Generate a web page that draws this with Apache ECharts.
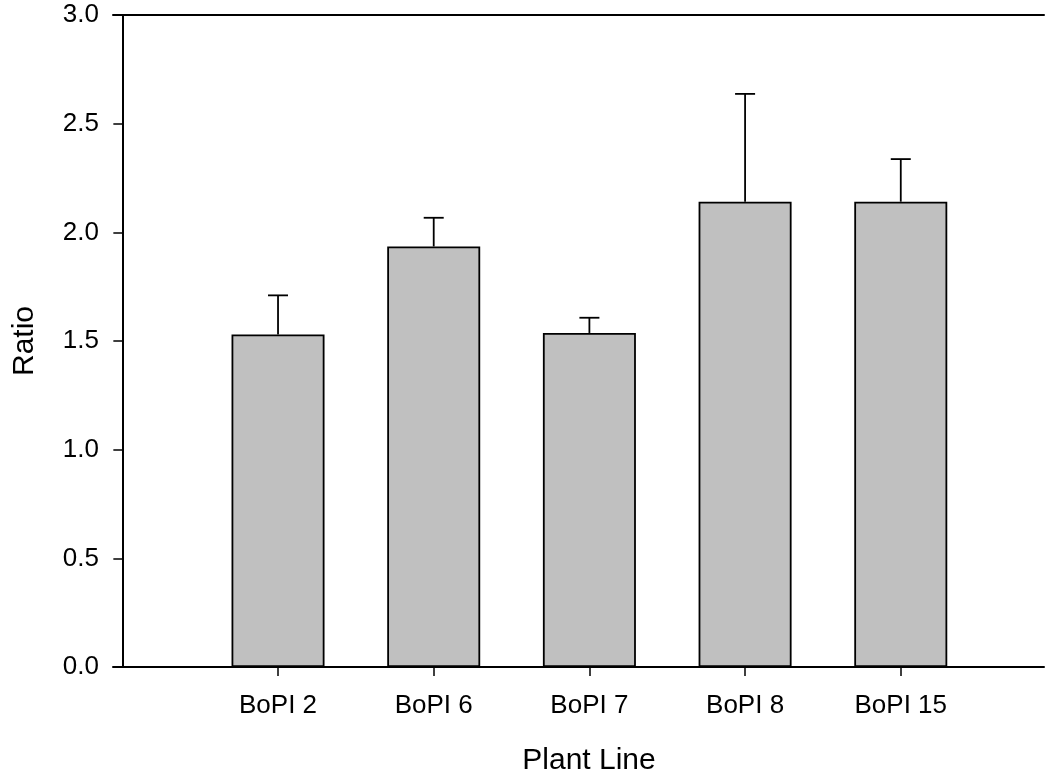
<!DOCTYPE html>
<html>
<head>
<meta charset="utf-8">
<script src="https://cdn.jsdelivr.net/npm/echarts@6/dist/echarts.min.js"></script>
<style>html,body{margin:0;padding:0;background:#fff}#chart{width:1045px;height:776px}</style>
</head>
<body>
<div id="chart"></div>
<script>
var categories = ['BoPI 2', 'BoPI 6', 'BoPI 7', 'BoPI 8', 'BoPI 15'];
var ratioMeans = [1.53, 1.935, 1.537, 2.141, 2.141];
var ratioErrors = [0.18, 0.132, 0.07, 0.496, 0.196];
var yTicks = [0, 0.5, 1.0, 1.5, 2.0, 2.5, 3.0];

var positions = categories.map(function (c, i) { return i + 1; });
var barData = positions.map(function (p, i) { return [p, ratioMeans[i]]; });
var errData = positions.map(function (p, i) { return [p, ratioMeans[i], ratioMeans[i] + ratioErrors[i]]; });

var font = '"Liberation Sans", Arial, Helvetica, sans-serif';
var chart = echarts.init(document.getElementById('chart'), null, { renderer: 'canvas' });
chart.setOption({
  animation: false,
  backgroundColor: '#fff',
  grid: { left: 113, right: 1, top: 15, bottom: 109, containLabel: false, outerBoundsMode: 'none' },
  xAxis: [{
    type: 'value', min: -0.06, max: 5.92, position: 'bottom',
    name: 'Plant Line', nameLocation: 'middle', nameGap: 79,
    nameTextStyle: { fontFamily: font, fontSize: 30, color: '#000', padding: [0, 0, 0, 21] },
    axisLine: { show: true, onZero: false, lineStyle: { color: '#000', width: 2 } },
    axisTick: { show: true, customValues: positions, length: 9, lineStyle: { color: '#000', width: 1.5 } },
    axisLabel: { show: true, customValues: positions, margin: 26, fontFamily: font, fontSize: 26, color: '#000',
      formatter: function (v) { return categories[Math.round(v) - 1] || ''; } },
    splitLine: { show: false }
  }, {
    type: 'value', min: -0.06, max: 5.92, position: 'top',
    axisLine: { show: true, onZero: false, lineStyle: { color: '#000', width: 2 } },
    axisTick: { show: false }, axisLabel: { show: false }, splitLine: { show: false }
  }],
  yAxis: {
    type: 'value', min: 0, max: 3, interval: 0.5,
    name: 'Ratio', nameLocation: 'middle', nameGap: 73, nameRotate: 90,
    nameTextStyle: { fontFamily: font, fontSize: 30, color: '#000' },
    axisLine: { show: true, onZero: true, lineStyle: { color: '#000', width: 2 } },
    axisTick: { show: true, length: 9, lineStyle: { color: '#000', width: 1.5 } },
    axisLabel: { margin: 14, fontFamily: font, fontSize: 26, color: '#000',
      formatter: function (v) { return v.toFixed(1); } },
    splitLine: { show: false }
  },
  series: [{
    type: 'bar', xAxisIndex: 0, data: barData, barWidth: 93, z: 2,
    itemStyle: { color: '#c0c0c0', borderColor: '#000', borderWidth: 1.8 }
  }, {
    type: 'custom', xAxisIndex: 0, data: errData, z: 3,
    renderItem: function (params, api) {
      var base = api.coord([api.value(0), api.value(1)]);
      var top = api.coord([api.value(0), api.value(2)]);
      var cw = 10;
      var st = { stroke: '#000', lineWidth: 1.8 };
      return { type: 'group', children: [
        { type: 'line', shape: { x1: base[0], y1: base[1], x2: top[0], y2: top[1] }, style: st },
        { type: 'line', shape: { x1: top[0] - cw, y1: top[1], x2: top[0] + cw, y2: top[1] }, style: st }
      ] };
    }
  }]
});
</script>
</body>
</html>
